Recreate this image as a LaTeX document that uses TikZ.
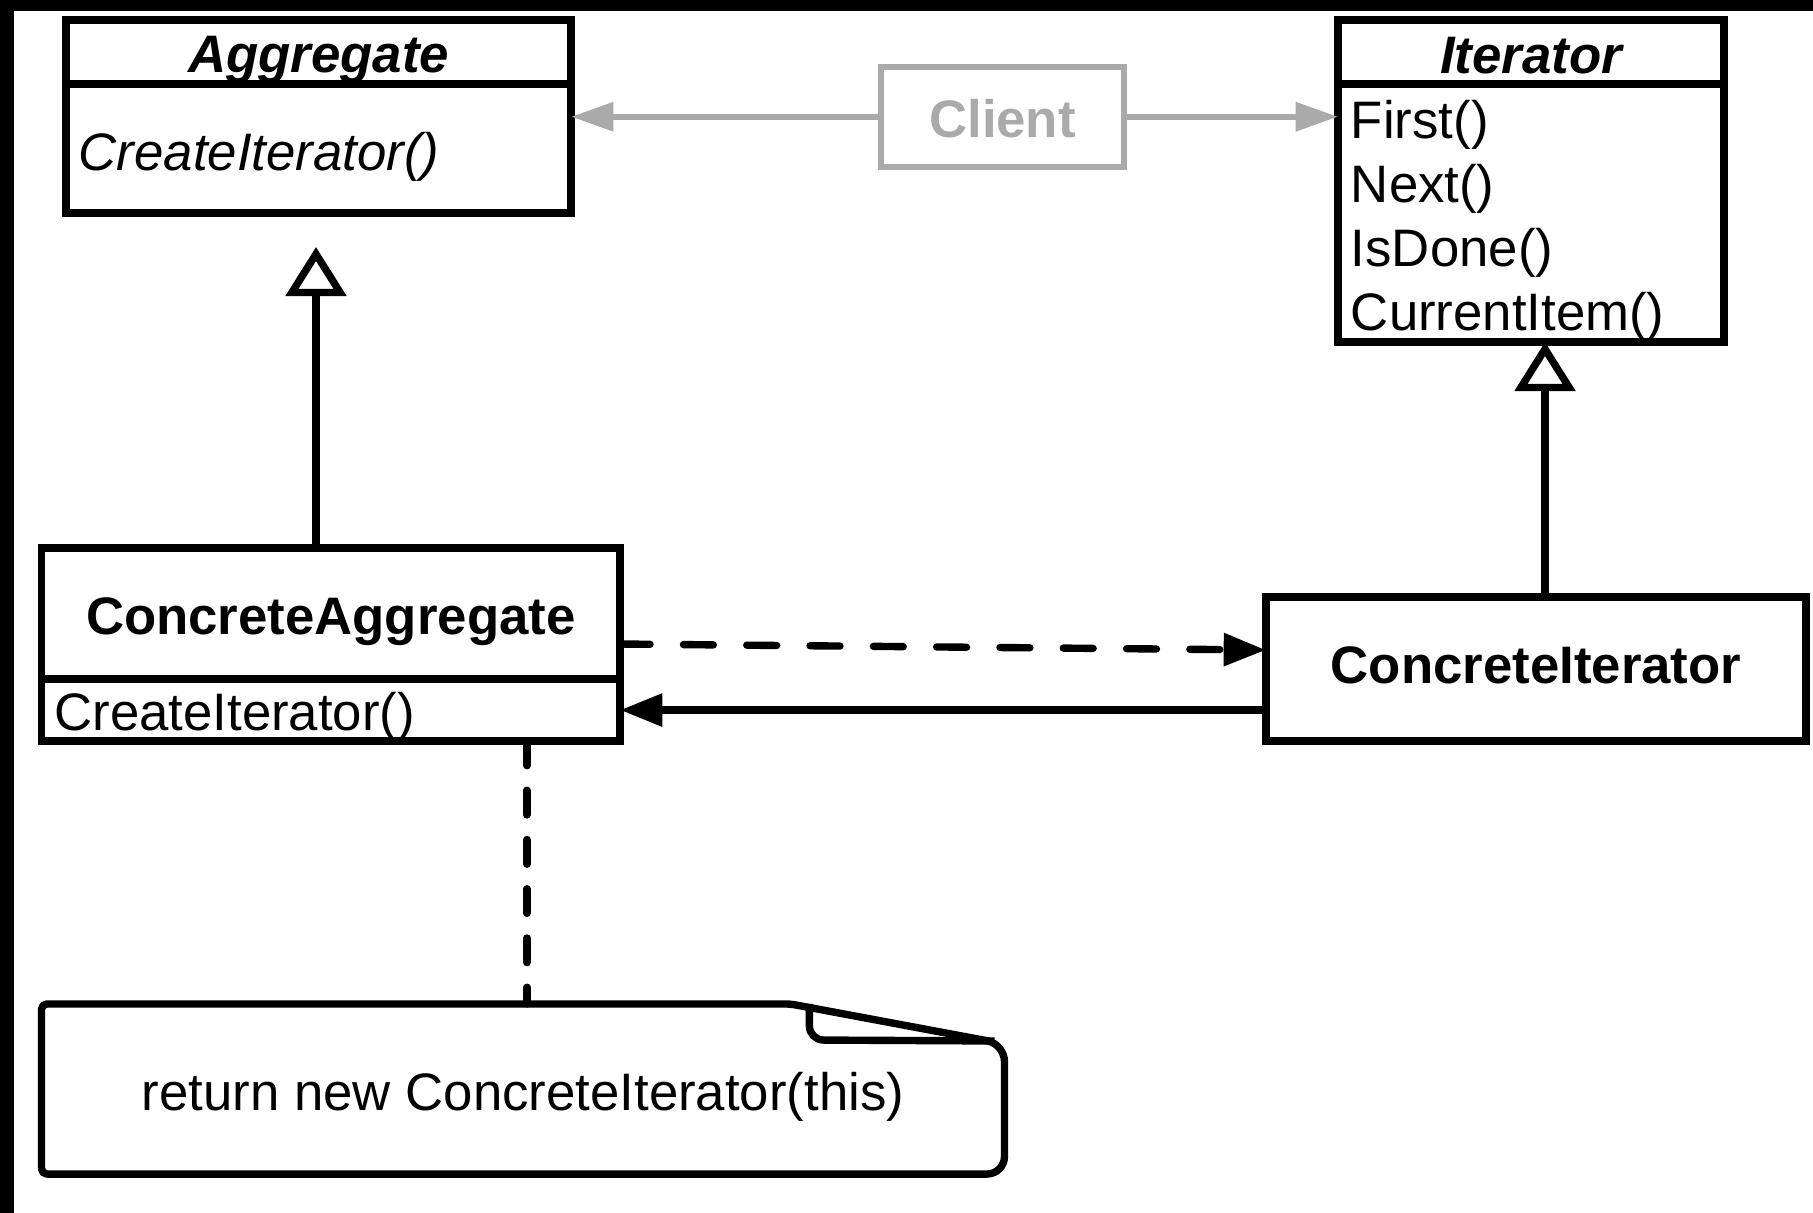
\documentclass[tikz,border=0pt]{standalone}
\usepackage{fontspec}
\setmainfont{Liberation Sans}
\usepackage{tikz}
\usetikzlibrary{arrows.meta,positioning}
\definecolor{clientgray}{HTML}{AAAAAA}
\newcommand{\umlfont}{\fontsize{15}{18.2}\selectfont}
% move a label up or down without changing its box
\newcommand{\shifttext}[2]{\raisebox{#1}[\height][\depth]{#2}}
\tikzset{
  classhead/.style={
    draw, line width=2.1pt, fill=white, inner sep=0pt, outer sep=0pt,
    align=center, font=\umlfont
  },
  classbody/.style={
    draw, line width=2.1pt, fill=white, inner xsep=0.13cm, inner ysep=0pt,
    outer sep=0pt, align=left, font=\umlfont
  },
  clientbox/.style={
    draw=clientgray, line width=1.7pt, text=clientgray, inner sep=0pt,
    outer sep=0pt, font=\umlfont\bfseries
  },
  notetext/.style={inner sep=0pt, outer sep=0pt, font=\umlfont},
  noteline/.style={line width=2.1pt, line join=round, rounded corners=1.5pt},
  inherit/.style={line width=2.1pt, -{Triangle[open, length=14pt, width=17pt]}},
  assoc/.style={line width=2.1pt, -{Triangle[length=12pt, width=9pt]}},
  dep/.style={assoc, dash pattern=on 8.5pt off 9.5pt, line cap=round},
  notelink/.style={line width=2.1pt, dash pattern=on 7pt off 7pt, line cap=round},
  clientarrow/.style={draw=clientgray, line width=1.7pt, -{Triangle[length=12pt, width=8pt]}},
}

\begin{document}
\begin{tikzpicture}[x=0.01cm, y=-0.01cm]
    \useasboundingbox (0,0) rectangle (1813,1213);
    % screenshot edge
    \fill[black] (0,0) rectangle (1813,11);
    \fill[black] (0,0) rectangle (14,1213);

    % abstract classes
    \node[classhead, minimum width=5.05cm, minimum height=0.64cm] (agg) at (318.5,52) {\shifttext{-0.08cm}{\bfseries\itshape Aggregate}};
    \node[classbody, minimum width=5.05cm, minimum height=1.29cm, text width=4.79cm, below=0pt of agg] (aggops) {\shifttext{-0.08cm}{\itshape CreateIterator()}};
    \node[classhead, minimum width=3.86cm, minimum height=0.64cm] (iter) at (1531,52) {\shifttext{-0.035cm}{\bfseries\itshape Iterator}};
    \node[classbody, minimum width=3.86cm, minimum height=2.58cm, text width=3.60cm, below=0pt of iter] (iterops) {\rule{0pt}{15.5pt}First()\\Next()\\IsDone()\\CurrentItem()};

    \node[clientbox, minimum width=2.43cm, minimum height=0.995cm] (client) at (1002.5,116.75) {\shifttext{-0.02cm}{Client}};

    % concrete classes
    \node[classhead, minimum width=5.784cm, minimum height=1.31cm] (cagg) at (330.8,613.5) {\shifttext{-0.08cm}{\bfseries ConcreteAggregate}};
    \node[classbody, minimum width=5.784cm, minimum height=0.62cm, text width=5.524cm, below=0pt of cagg] (cops) {\shifttext{-0.07cm}{CreateIterator()}};
    \node[classhead, minimum width=5.4cm, minimum height=1.44cm] (citer) at (1536,669) {\shifttext{0.035cm}{\bfseries ConcreteIterator}};

    % note
    \node[notetext, minimum width=9.624cm, minimum height=1.70cm] (note) at (523,1089) {\shifttext{-0.08cm}{return new ConcreteIterator(this)}};
    \draw[noteline] (note.south west) -- (note.north west) -- ([xshift=-2.14cm]note.north east)
      [rounded corners=5pt] -- ([yshift=-0.40cm]note.north east) -- (note.south east)
      [rounded corners=1.5pt] -- cycle;
    \draw[noteline, rounded corners=4pt] ([xshift=-1.95cm]note.north east)
      -- ([xshift=-1.95cm, yshift=-0.36cm]note.north east)
      -- ([xshift=-0.1cm, yshift=-0.37cm]note.north east);

    \coordinate (aggtip) at (316,247);
    \coordinate (itertip) at (1545,342);

    \draw[clientarrow] (client.west) -- (client.west -| aggops.east);
    \draw[clientarrow] (client.east) -- (client.east -| iterops.west);
    \draw[inherit] (cagg.north -| aggtip) -- (aggtip);
    \draw[inherit] (citer.north -| itertip) -- (itertip);
    \draw[dep] ([yshift=-0.305cm]cagg.east) -- ([yshift=0.19cm]citer.west);
    \draw[assoc] (citer.west |- cops.east) -- (cops.east);
    \draw[notelink] ([xshift=1.96cm]cops.south) -- ([xshift=1.96cm]cops.south |- note.north);
\end{tikzpicture}
\end{document}
